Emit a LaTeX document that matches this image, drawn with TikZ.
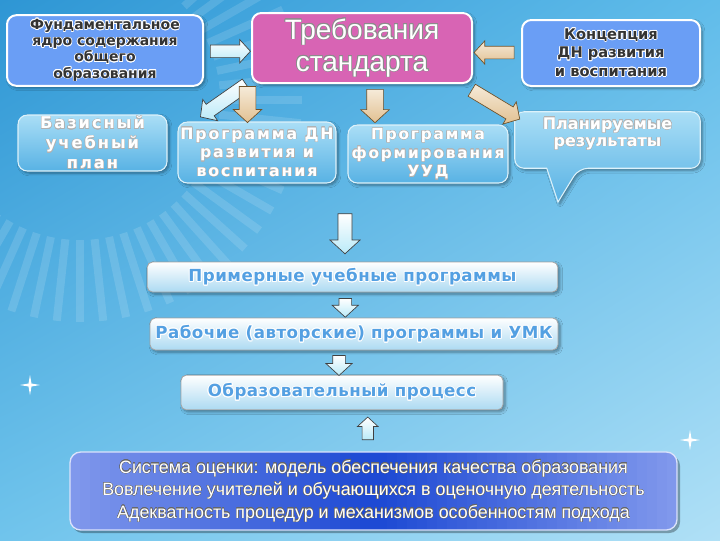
\documentclass[tikz,border=0pt]{standalone}
\usepackage{fontspec}
\setmainfont{Liberation Sans}
\newfontfamily\boxfont{DejaVu Sans}
\newfontfamily\spacedfont[LetterSpace=12]{DejaVu Sans}
\newfontfamily\barfont[LetterSpace=3]{DejaVu Sans}
\usepackage{contour}
\contournumber{16}
\usetikzlibrary{shapes.arrows,shadows.blur,shadings,calc}

\definecolor{skyA}{RGB}{46,150,212}
\definecolor{skyB}{RGB}{96,188,234}
\definecolor{skyC}{RGB}{112,196,236}
\definecolor{skyD}{RGB}{176,224,246}
\definecolor{boxblue}{RGB}{106,158,245}
\definecolor{boxpink}{RGB}{216,100,180}
\definecolor{glassTop}{RGB}{170,222,246}
\definecolor{glassBot}{RGB}{88,178,228}
\definecolor{barBot}{RGB}{172,218,242}
\definecolor{barText}{RGB}{84,160,226}
\definecolor{navyfill}{RGB}{30,74,212}
\definecolor{edgeblue}{RGB}{166,182,246}
\definecolor{arrowCyan}{RGB}{186,234,248}
\definecolor{arrowBeige}{RGB}{232,204,160}
\definecolor{arrowBrown}{RGB}{110,80,40}

\tikzset{
  boxshadow/.style={blur shadow={shadow blur steps=6,shadow xshift=1.5pt,shadow yshift=-1.5pt,shadow opacity=40}},
  topbox/.style={rounded corners=7pt,draw=white,line width=1.5pt,fill=boxblue,boxshadow,align=center,inner sep=0pt},
  glassbox/.style={rounded corners=7pt,draw=white!60!glassTop,line width=0.8pt,top color=glassTop,bottom color=glassBot,boxshadow,align=center,inner sep=0pt},
  barbox/.style={rounded corners=4pt,draw=gray!70,line width=0.6pt,top color=white,bottom color=barBot,boxshadow,inner sep=0pt},
  arrowsize/.style n args={3}{minimum height=#1,inner xsep=0pt,inner ysep=#2,single arrow head extend=#3},
  cyanarrow/.style={single arrow,draw=black!75,line width=0.5pt,top color=white,bottom color=arrowCyan,single arrow tip angle=95},
  beigearrow/.style={single arrow,draw=arrowBrown,line width=0.5pt,top color=white!60!arrowBeige,bottom color=arrowBeige!85!brown,single arrow tip angle=95},
}
\newcommand{\wl}[1]{\contour{white}{#1}}
\newcommand{\gl}[1]{\contour{black!45}{#1}}

\begin{document}
\begin{tikzpicture}[x=0.75pt,y=0.75pt,yscale=-1,xscale=1]
\useasboundingbox (0,0) rectangle (720,540);

%Background
\shade[upper left=skyA,upper right=skyB,lower left=skyC,lower right=skyD] (0,0) rectangle (720,540);
%Rays
\begin{scope}[shift={(80,100)}]
  \foreach \a in {0,6,...,354}
    \draw[white,opacity=0.13,line width=6pt] (\a:140) -- (\a:222);
\end{scope}
%Sparkles
\fill[white] (30,375) -- (31.5,383.5) -- (40,385) -- (31.5,386.5) -- (30,395) -- (28.5,386.5) -- (20,385) -- (28.5,383.5) -- cycle;
\fill[white] (690,430) -- (691.5,438.5) -- (700,440) -- (691.5,441.5) -- (690,450) -- (688.5,441.5) -- (680,440) -- (688.5,438.5) -- cycle;

%Top row
\contourlength{0.5pt}
\node [topbox,minimum width=147pt,minimum height=53pt,text=black!80,font=\boxfont\bfseries\fontsize{10.5}{12.2}\selectfont] (core) at (105,50.5)
  {\wl{Фундаментальное}\\\wl{ядро содержания}\\\wl{общего}\\\wl{образования}};
\node [topbox,fill=boxpink,minimum width=165pt,minimum height=52.5pt,text=white,font=\fontsize{21}{24}\selectfont] (standard) at (362,48)
  {\gl{Требования}\\\gl{стандарта}};
\node [topbox,minimum width=133.5pt,minimum height=49.5pt,text=black!80,font=\boxfont\bfseries\fontsize{11}{13.9}\selectfont] (concept) at (611,53)
  {\wl{Концепция}\\\wl{ДН развития}\\\wl{и воспитания}};

%Second row
\contourlength{0.3pt}
\node [glassbox,minimum width=111.75pt,minimum height=42pt,text=white,font=\spacedfont\bfseries\fontsize{12.2}{15}\selectfont] (plan) at (92.5,143)
  {\contour{black!30}{Базисный}\\\contour{black!30}{учебный}\\\contour{black!30}{план}};
\node [glassbox,minimum width=118.5pt,minimum height=45.75pt,text=white,font=\spacedfont\bfseries\fontsize{11.8}{14}\selectfont] (dnprog) at (257,152.5)
  {\contour{black!30}{Программа ДН}\\\contour{black!30}{развития и}\\\contour{black!30}{воспитания}};
\node [glassbox,minimum width=120pt,minimum height=43.5pt,text=white,font=\spacedfont\bfseries\fontsize{11.5}{14}\selectfont] (uudprog) at (428,154)
  {\contour{black!30}{Программа}\\\contour{black!30}{формирования}\\\contour{black!30}{УУД}};

%Callout
\node [minimum width=138.75pt,minimum height=42pt,inner sep=0pt] (results) at (607.5,140) {};
\coordinate (tip) at (558,202);
\shade[rounded corners=7pt,draw=white!60!glassTop,line width=0.8pt,top color=glassTop,bottom color=glassBot,boxshadow]
  (results.north west) -- (results.north east) -- (results.south east) -- ($(results.south west)+(64,0)$) [sharp corners] -- (tip) -- ($(results.south west)+(32,0)$) [rounded corners=7pt] -- (results.south west) -- cycle;
\node [align=center,text=white,font=\boxfont\bfseries\fontsize{12}{13}\selectfont] (resultstext) at ($(results.center)+(0,-6)$)
  {\contour{black!30}{Планируемые}\\\contour{black!30}{результаты}};

%Arrows of the top rows
\node [cyanarrow,arrowsize={30pt}{4.5pt}{4pt}] (a1) at ($(core.east)!0.5!(standard.west)+(0,2)$) {};
\node [beigearrow,arrowsize={30pt}{4.5pt}{4pt},rotate=180] (a2) at ($(concept.west)!0.5!(standard.east)+(0,2)$) {};
\node [cyanarrow,arrowsize={42pt}{5pt}{4.5pt},rotate=215] (a3) at (226,99) {};
\node [beigearrow,arrowsize={27pt}{6pt}{4.5pt},rotate=-90] (a4) at ($(standard.south)!0.5!(dnprog.north)+(-62,-2)$) {};
\node [beigearrow,arrowsize={25pt}{6pt}{4.5pt},rotate=-90] (a5) at ($(standard.south)!0.5!(uudprog.north)+(-20,-2)$) {};
\node [beigearrow,arrowsize={42pt}{5pt}{4.5pt},rotate=-31] (a6) at (493,103) {};

%Lower column
\contourlength{0.7pt}
\node [barbox,minimum width=308pt,minimum height=22.5pt,text=barText,font=\barfont\bfseries\fontsize{12.5}{14}\selectfont] (samples) at (352.5,277)
  {\wl{Примерные учебные программы}};
\node [barbox,minimum width=306pt,minimum height=24pt,text=barText,font=\barfont\bfseries\fontsize{12.5}{14}\selectfont] (working) at (354,334)
  {\wl{Рабочие (авторские) программы и УМК}};
\node [barbox,minimum width=241.5pt,minimum height=26pt,text=barText,font=\barfont\bfseries\fontsize{12.5}{14}\selectfont] (process) at (342,392.5)
  {\wl{Образовательный процесс}};

%Assessment box
\fill[black,opacity=0.3,rounded corners=8pt] (72,455) rectangle (680,533);
\fill[navyfill,rounded corners=8pt] (70,452) rectangle (677,530);
\begin{scope}
  \clip[rounded corners=8pt] (70,452) rectangle (677,530);
  \foreach \i in {0,...,29} {
    \fill[edgeblue,fill opacity={(29-\i)/40}] ({70+\i*10},452) rectangle ({80+\i*10},530);
    \fill[edgeblue,fill opacity={(29-\i)/40}] ({667-\i*10},452) rectangle ({677-\i*10},530);
  }
\end{scope}
\draw[white!60!edgeblue,line width=1pt,rounded corners=8pt] (70,452) rectangle (677,530);
\contourlength{0.2pt}
\node [minimum width=455pt,minimum height=58.5pt,inner sep=0pt,align=center,text=white,font=\fontsize{13.4}{16.9}\selectfont] (assess) at (373.5,491)
  {\contour{black!60}{Система оценки: модель обеспечения качества образования}\\
   \contour{black!60}{Вовлечение учителей и обучающихся в оценочную деятельность}\\
   \contour{black!60}{Адекватность процедур и механизмов особенностям подхода}};

%Arrows of the column
\node [cyanarrow,arrowsize={30pt}{5pt}{6pt},rotate=-90] (a7) at ($(samples.north)+(-7.5,-31)$) {};
\node [cyanarrow,arrowsize={14pt}{4.5pt}{5pt},rotate=-90] (a8) at ($(samples.south)!0.5!(working.north)+(-8,0)$) {};
\node [cyanarrow,arrowsize={15pt}{4.5pt}{5pt},rotate=-90] (a9) at ($(working.south)!0.5!(process.north)+(-9,0)$) {};
\node [cyanarrow,arrowsize={17pt}{4pt}{3.5pt},rotate=90] (a10) at ($(process.south)!0.5!(assess.north)+(10,0)$) {};

\end{tikzpicture}
\end{document}
